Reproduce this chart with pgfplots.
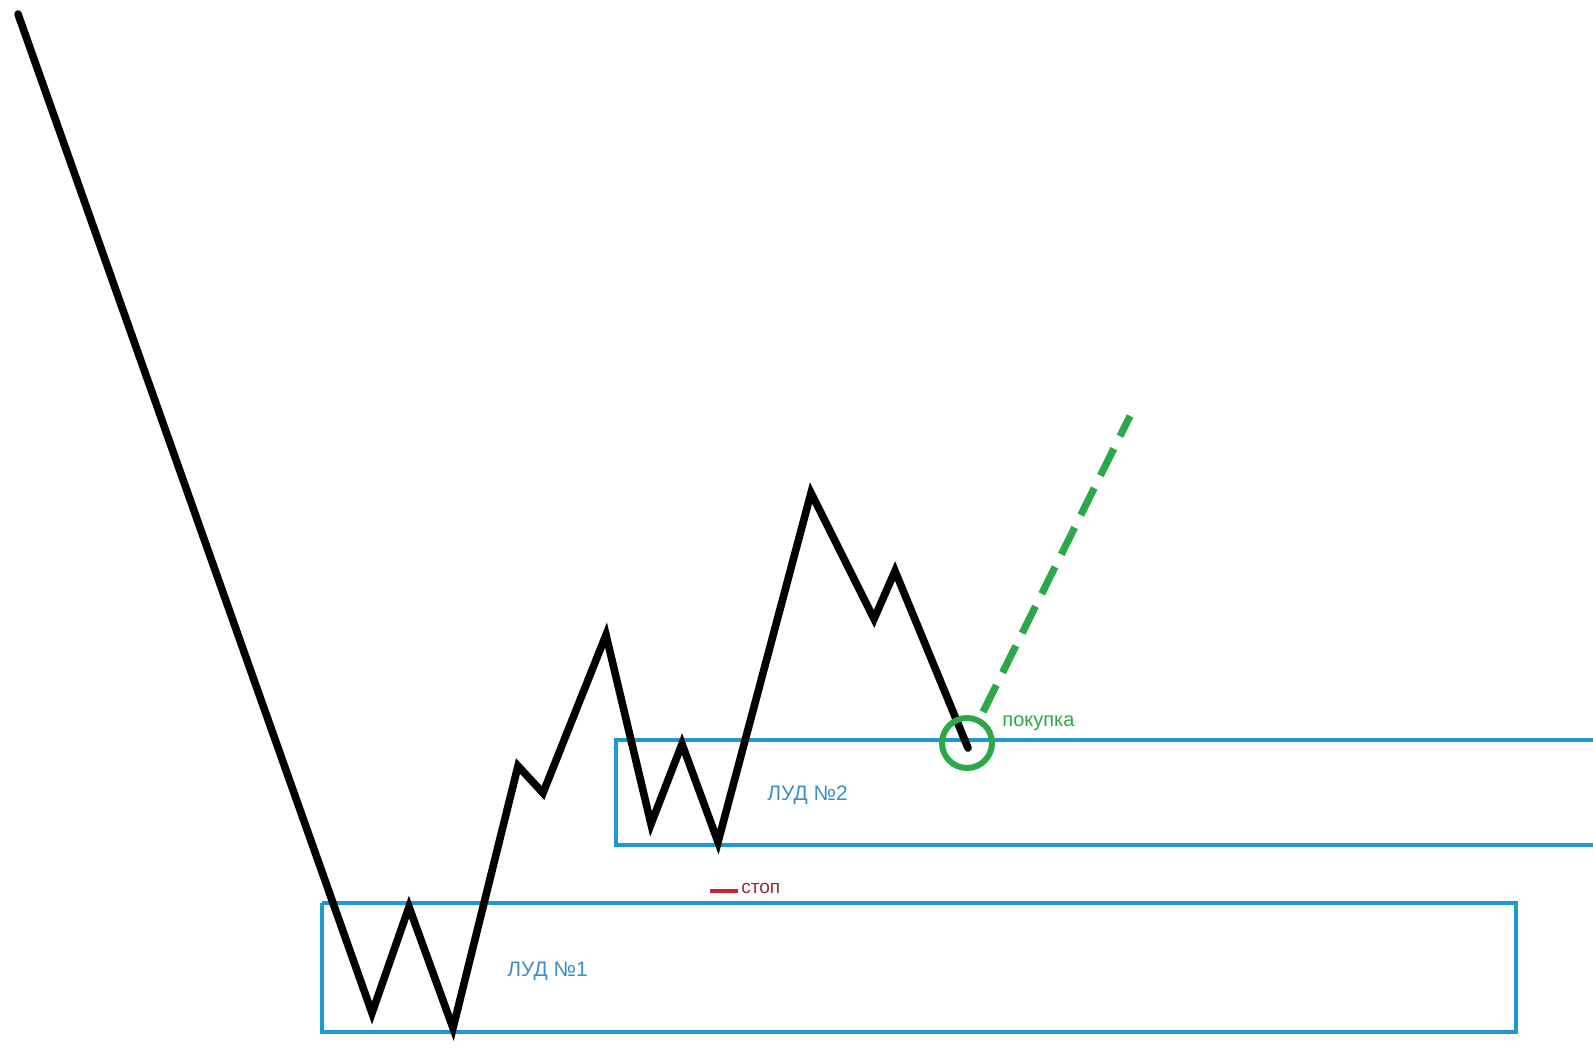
\documentclass[border=0pt]{standalone}
\usepackage{pgfplots}
\pgfplotsset{compat=1.18}
\usepackage{fontspec}
\setmainfont{Liberation Sans}
\definecolor{boxblue}{RGB}{30,152,212}
\definecolor{txtblue}{RGB}{62,142,196}
\definecolor{grn}{RGB}{44,168,72}
\definecolor{stopred}{RGB}{196,36,44}
\definecolor{stoptxt}{RGB}{150,40,45}
\begin{document}
\begin{tikzpicture}
\begin{axis}[
  width=796.5pt, height=526pt, scale only axis,
  xmin=0, xmax=1593, ymin=0, ymax=1052, y dir=reverse,
  hide axis, clip=true,
]
% zones
\addplot[boxblue, line width=2pt] coordinates {(322,903) (1516,903) (1516,1032) (322,1032) (322,903)};
\addplot[boxblue, line width=2pt] coordinates {(1620,740) (616,740) (616,845) (1620,845)};
% price path
\addplot[black, line width=3.8pt, line cap=round] coordinates {
(18,14) (372,1013) (409,907) (453,1028) (518,766) (543,793) (606,635)
(651,824) (682,744) (718,842) (811,493) (874,619) (895,571) (968,748)};
% projected move
\addplot[grn, line width=3.6pt, dash pattern=on 15pt off 7pt] coordinates {(983,712) (1130,416)};
% entry circle
\addplot[grn, line width=3pt, only marks, mark=o, mark size=12.5pt, mark options={line width=3pt}] coordinates {(967,743)};
% stop marker
\addplot[stopred, line width=2pt] coordinates {(710,891) (738,891)};
\node[anchor=west, inner sep=0pt, text=stoptxt, font=\fontsize{9.5}{11}\selectfont] at (axis cs:741,888) {стоп};
\node[anchor=west, inner sep=0pt, text=grn, font=\fontsize{10}{12}\selectfont] at (axis cs:1002,723) {покупка};
\node[anchor=west, inner sep=0pt, text=txtblue, font=\fontsize{10.5}{12}\selectfont] at (axis cs:767,795) {ЛУД №2};
\node[anchor=west, inner sep=0pt, text=txtblue, font=\fontsize{10.5}{12}\selectfont] at (axis cs:507,971) {ЛУД №1};
\end{axis}
\pgfresetboundingbox
\path[use as bounding box] (current axis.south west) rectangle (current axis.north east);
\end{tikzpicture}
\end{document}
